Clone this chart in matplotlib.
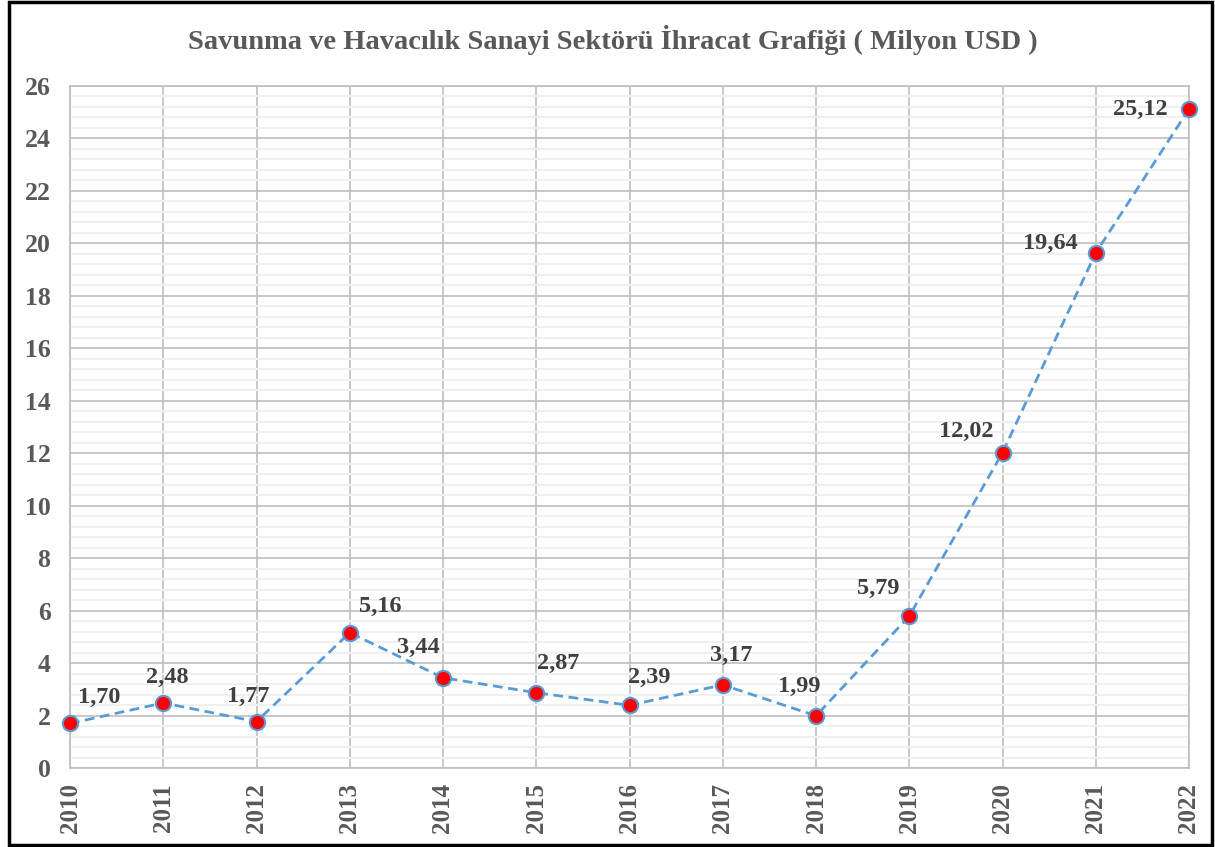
import matplotlib
matplotlib.use("Agg")
import matplotlib.pyplot as plt
from matplotlib.ticker import MultipleLocator
from matplotlib.patches import Rectangle

years = [2010, 2011, 2012, 2013, 2014, 2015, 2016, 2017, 2018, 2019, 2020, 2021, 2022]
values = [1.70, 2.48, 1.77, 5.16, 3.44, 2.87, 2.39, 3.17, 1.99, 5.79, 12.02, 19.64, 25.12]
labels = ["1,70", "2,48", "1,77", "5,16", "3,44", "2,87", "2,39", "3,17", "1,99", "5,79", "12,02", "19,64", "25,12"]
title = "Savunma ve Havacılık Sanayi Sektörü İhracat Grafiği ( Milyon USD )"

# label offsets in points (styling)
offsets = [(21, 19), (3, 18), (-6, 18), (22, 19), (-18, 22), (16, 21), (14, 20), (6, 21),
           (-12, 21), (-22, 20), (-26, 15), (-33, 7), (-35, 0)]

plt.rcParams['font.family'] = ['Liberation Serif', 'DejaVu Serif']
W, H = 1215, 847
fig = plt.figure(figsize=(W / 100, H / 100), dpi=100)
ax = fig.add_axes([70 / W, 1 - 768 / H, (1189 - 70) / W, (768 - 86) / H])

x = list(range(len(years)))
ax.plot(x, values, linestyle=(0, (3.5, 2)), color="#5B9BD5", lw=2, marker="o",
        markersize=11, markerfacecolor="#FF0000", markeredgecolor="#5B9BD5",
        markeredgewidth=1.5, zorder=5, clip_on=False)

for xi, v, lab, off in zip(x, values, labels, offsets):
    ax.annotate(lab, (xi, v), xytext=off, textcoords="offset points",
                ha="center", va="center", fontsize=17.5, fontweight="bold",
                color="#404040", zorder=6)

ax.set_xlim(0, len(years) - 1)
ax.set_ylim(0, 26)
ax.set_xticks(x)
ax.set_xticklabels([str(y) for y in years], rotation=90, fontsize=18,
                   fontweight="bold", color="#595959")
ax.yaxis.set_major_locator(MultipleLocator(2))
ax.yaxis.set_minor_locator(MultipleLocator(0.4))
for t in ax.get_yticklabels():
    t.set_fontsize(18.5)
    t.set_fontweight("bold")
    t.set_color("#595959")
ax.tick_params(axis="both", which="both", length=0)
ax.tick_params(axis="y", pad=14)
ax.tick_params(axis="x", pad=11)
ax.grid(True, which="major", axis="both", color="#BFBFBF", lw=1.2)
ax.grid(True, which="minor", axis="y", color="#F0F0F0", lw=1.5)
ax.set_axisbelow(True)
for s in ax.spines.values():
    s.set_color("#BFBFBF")
    s.set_linewidth(1.2)

fig.text(613 / W, 1 - 40 / H, title, ha="center", va="center", fontsize=20.5,
         fontweight="bold", color="#595959")

fig.patches.append(Rectangle((9 / W, 2 / H), (1212 - 9) / W, (845 - 2) / H,
                             transform=fig.transFigure, fill=False,
                             edgecolor="black", lw=2.5))

fig.savefig("out.png", dpi=100)
